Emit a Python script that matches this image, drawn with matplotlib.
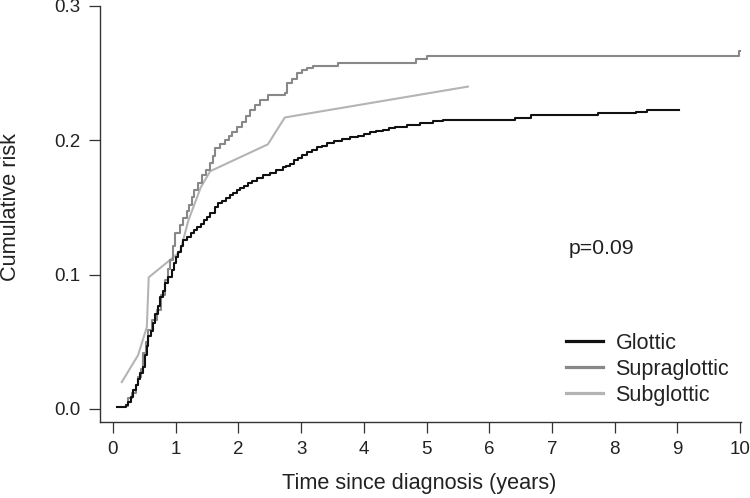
import matplotlib
matplotlib.use("Agg")
import matplotlib.pyplot as plt

plt.rcParams['font.family'] = ['Liberation Sans', 'DejaVu Sans']

# Glottic (step curve)
glottic_t = [0.06, 0.20, 0.24, 0.28, 0.32, 0.36, 0.40, 0.43, 0.48, 0.51, 0.54, 0.56, 0.60, 0.64,
             0.67, 0.71, 0.75, 0.79, 0.83, 0.88, 0.94, 0.98, 1.01, 1.04, 1.08, 1.12, 1.18, 1.25,
             1.30, 1.34, 1.40, 1.45, 1.50, 1.55, 1.62, 1.68, 1.74, 1.80, 1.86, 1.92, 1.97, 2.03,
             2.09, 2.15, 2.22, 2.30, 2.40, 2.50, 2.60, 2.71, 2.76, 2.82, 2.88, 2.95, 3.02, 3.10,
             3.18, 3.25, 3.33, 3.41, 3.52, 3.65, 3.78, 3.91, 4.00, 4.10, 4.20, 4.30, 4.40, 4.50,
             4.69, 4.90, 5.10, 5.26, 6.41, 6.67, 7.74, 8.34, 8.51, 9.03]
glottic_v = [0.0015, 0.003, 0.005, 0.009, 0.014, 0.018, 0.022, 0.027, 0.031, 0.040, 0.047, 0.054,
             0.058, 0.064, 0.071, 0.077, 0.083, 0.088, 0.094, 0.098, 0.1035, 0.109, 0.113, 0.117,
             0.121, 0.126, 0.128, 0.131, 0.133, 0.1355, 0.138, 0.141, 0.143, 0.146, 0.150, 0.153,
             0.155, 0.157, 0.159, 0.161, 0.163, 0.1646, 0.166, 0.168, 0.170, 0.172, 0.174, 0.1757,
             0.178, 0.180, 0.181, 0.1825, 0.185, 0.187, 0.189, 0.191, 0.193, 0.195, 0.196, 0.198,
             0.1995, 0.201, 0.2022, 0.2033, 0.2045, 0.206, 0.207, 0.208, 0.209, 0.210, 0.2115,
             0.213, 0.2144, 0.2154, 0.2167, 0.2187, 0.2202, 0.2214, 0.2224, 0.2226]

# Supraglottic (step curve)
supra_t = [0.22, 0.24, 0.30, 0.36, 0.40, 0.44, 0.48, 0.52, 0.56, 0.63, 0.70, 0.76, 0.83, 0.87,
           0.91, 0.95, 0.99, 1.07, 1.12, 1.18, 1.22, 1.26, 1.30, 1.36, 1.42, 1.48, 1.55, 1.59,
           1.63, 1.70, 1.79, 1.85, 1.90, 1.98, 2.06, 2.12, 2.19, 2.27, 2.35, 2.48, 2.74, 2.78,
           2.85, 2.93, 3.01, 3.10, 3.19, 3.59, 4.83, 5.00, 9.98, 10.0]
supra_v = [0.0025, 0.008, 0.012, 0.018, 0.024, 0.030, 0.042, 0.050, 0.059, 0.066, 0.074, 0.085,
           0.096, 0.104, 0.111, 0.121, 0.131, 0.137, 0.142, 0.147, 0.152, 0.158, 0.163, 0.168,
           0.174, 0.178, 0.183, 0.188, 0.194, 0.197, 0.200, 0.203, 0.206, 0.210, 0.2137, 0.218,
           0.2226, 0.226, 0.230, 0.2338, 0.235, 0.2427, 0.246, 0.250, 0.2524, 0.254, 0.2554,
           0.2579, 0.2606, 0.2631, 0.2666, 0.2666]

# Subglottic (connected points)
sub_t = [0.14, 0.40, 0.54, 0.57, 1.07, 1.20, 1.40, 1.55, 2.47, 2.74, 5.66]
sub_v = [0.020, 0.040, 0.061, 0.098, 0.117, 0.140, 0.165, 0.177, 0.197, 0.217, 0.240]

x_ticks = list(range(0, 11))
y_ticks = [0.0, 0.1, 0.2, 0.3]

fig = plt.figure(figsize=(7.5, 4.98), dpi=100)
ax = fig.add_axes([100 / 750, 1 - 421.7 / 498, 641.3 / 750, 415.7 / 498])

ax.plot(sub_t, sub_v, color='#b4b4b4', lw=1.5, label='Subglottic', zorder=2)
ax.plot(supra_t, supra_v, color='#888888', lw=1.5, drawstyle='steps-post',
        label='Supraglottic', zorder=3, clip_on=False)
ax.plot(glottic_t, glottic_v, color='#111111', lw=1.5, drawstyle='steps-post',
        label='Glottic', zorder=4)

ax.set_xlim(-0.207, 10.02)
ax.set_ylim(-0.0095, 0.3)
ax.set_xticks(x_ticks)
ax.set_yticks(y_ticks)
ax.set_yticklabels([f"{v:.1f}" for v in y_ticks])

for s in ['top', 'right']:
    ax.spines[s].set_visible(False)
for s in ['left', 'bottom']:
    ax.spines[s].set_color('#333333')
    ax.spines[s].set_linewidth(1.0)
ax.tick_params(length=8, width=0.9, color='#333333', labelsize=13.5, labelcolor='#222222')
ax.tick_params(axis='y', pad=6)
ax.tick_params(axis='x', pad=6)

fig.text(0.014, 0.584, 'Cumulative risk', rotation=90, ha='center', va='center',
         fontsize=15.6, color='#222222')
fig.text(0.559, 0.03, 'Time since diagnosis (years)', ha='center', va='center',
         fontsize=15.6, color='#222222')
ax.text(569, 250, 'p=0.09', transform=None, fontsize=15.3, color='#222222', va='center')

handles, labels = ax.get_legend_handles_labels()
order = [2, 1, 0]
leg = ax.legend([handles[i] for i in order], [labels[i] for i in order],
                loc='upper left', bbox_to_anchor=(566 / 750, 1 - 333 / 498),
                bbox_transform=fig.transFigure, frameon=False, fontsize=15.5,
                handlelength=1.7, handletextpad=0.6, labelspacing=0.23,
                borderpad=0, borderaxespad=0)
for line in leg.get_lines():
    line.set_linewidth(2.3)
for t in leg.get_texts():
    t.set_color('#222222')

fig.savefig('out.png', dpi=100)
